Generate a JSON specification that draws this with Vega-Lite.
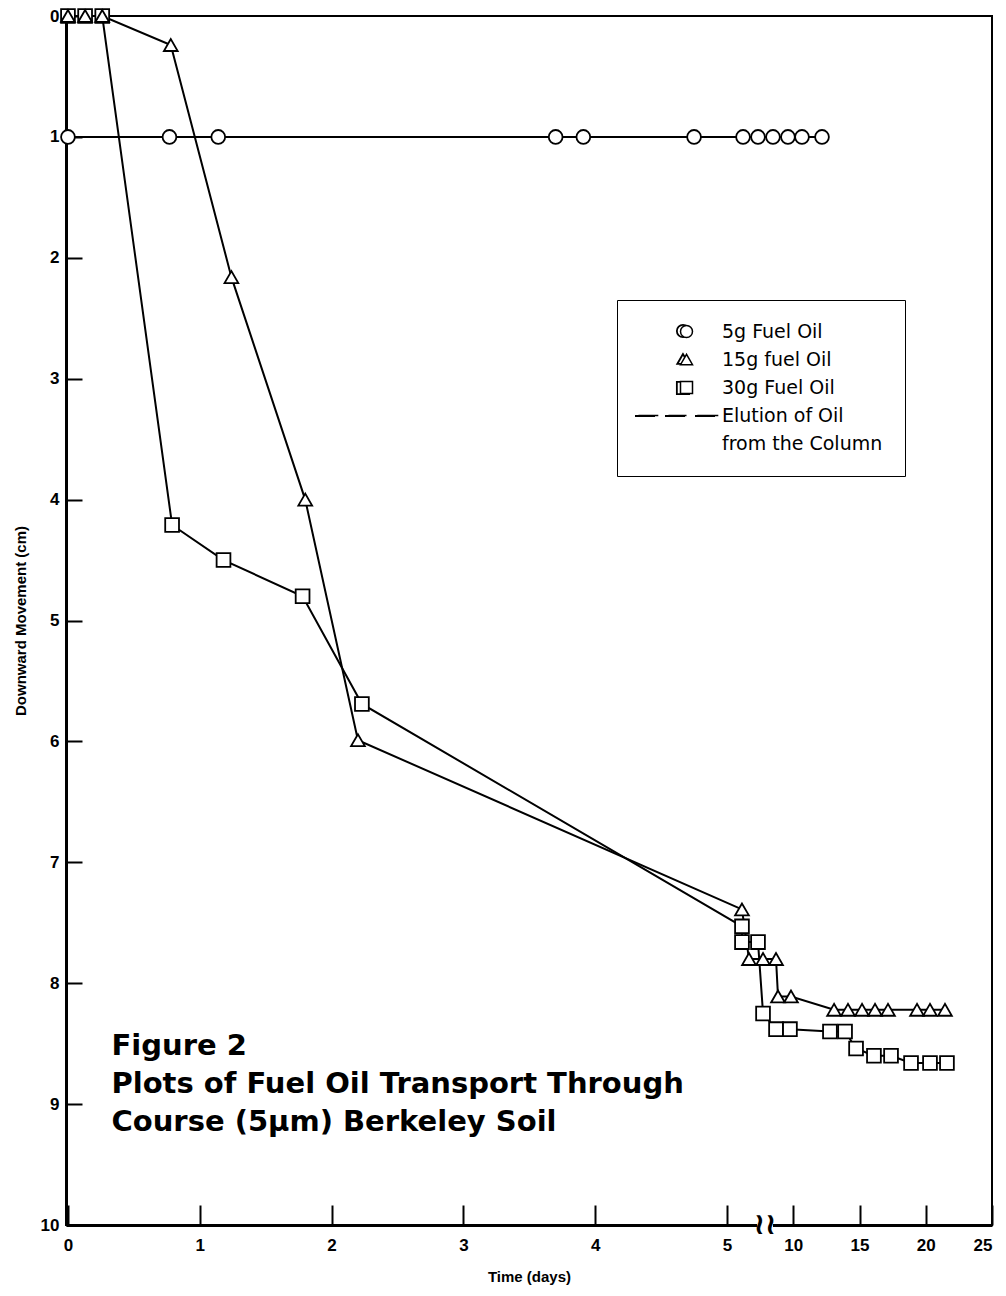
{
  "$schema": "https://vega.github.io/schema/vega-lite/v6.json",
  "width": 926,
  "height": 1209,
  "autosize": "none",
  "padding": {"left": 66, "top": 16, "right": 14, "bottom": 71},
  "background": "white",
  "config": {
    "font": "Liberation Sans",
    "view": {"stroke": "black", "strokeWidth": 2},
    "axis": {
      "domainColor": "black", "domainWidth": 3,
      "tickColor": "black", "tickWidth": 2,
      "labelColor": "black", "titleColor": "black", "grid": false,
      "labelFont": "Liberation Sans", "labelFontWeight": "bold", "labelFontSize": 17,
      "titleFont": "Liberation Sans", "titleFontWeight": "bold", "titleFontSize": 15,
      "zindex": 0
    }
  },
  "datasets": {
    "runs": [
      {"series": "30g Fuel Oil", "t": 0, "depth": 0},
      {"series": "30g Fuel Oil", "t": 0.13, "depth": 0},
      {"series": "30g Fuel Oil", "t": 0.26, "depth": 0},
      {"series": "30g Fuel Oil", "t": 0.79, "depth": 4.21},
      {"series": "30g Fuel Oil", "t": 1.18, "depth": 4.5},
      {"series": "30g Fuel Oil", "t": 1.78, "depth": 4.8},
      {"series": "30g Fuel Oil", "t": 2.23, "depth": 5.69},
      {"series": "30g Fuel Oil", "t": 6.13, "depth": 7.53},
      {"series": "30g Fuel Oil", "t": 6.13, "depth": 7.66},
      {"series": "30g Fuel Oil", "t": 7.34, "depth": 7.66},
      {"series": "30g Fuel Oil", "t": 7.72, "depth": 8.25},
      {"series": "30g Fuel Oil", "t": 8.7, "depth": 8.38},
      {"series": "30g Fuel Oil", "t": 9.75, "depth": 8.38},
      {"series": "30g Fuel Oil", "t": 12.77, "depth": 8.4},
      {"series": "30g Fuel Oil", "t": 13.91, "depth": 8.4},
      {"series": "30g Fuel Oil", "t": 14.74, "depth": 8.54},
      {"series": "30g Fuel Oil", "t": 16.09, "depth": 8.6},
      {"series": "30g Fuel Oil", "t": 17.38, "depth": 8.6},
      {"series": "30g Fuel Oil", "t": 18.89, "depth": 8.66},
      {"series": "30g Fuel Oil", "t": 20.32, "depth": 8.66},
      {"series": "30g Fuel Oil", "t": 21.6, "depth": 8.66},
      {"series": "15g fuel Oil", "t": 0, "depth": 0},
      {"series": "15g fuel Oil", "t": 0.13, "depth": 0},
      {"series": "15g fuel Oil", "t": 0.26, "depth": 0},
      {"series": "15g fuel Oil", "t": 0.78, "depth": 0.24},
      {"series": "15g fuel Oil", "t": 1.24, "depth": 2.16},
      {"series": "15g fuel Oil", "t": 1.8, "depth": 4.0},
      {"series": "15g fuel Oil", "t": 2.2, "depth": 5.99},
      {"series": "15g fuel Oil", "t": 6.13, "depth": 7.39},
      {"series": "15g fuel Oil", "t": 6.66, "depth": 7.8},
      {"series": "15g fuel Oil", "t": 7.72, "depth": 7.8},
      {"series": "15g fuel Oil", "t": 8.7, "depth": 7.8},
      {"series": "15g fuel Oil", "t": 8.85, "depth": 8.11},
      {"series": "15g fuel Oil", "t": 9.83, "depth": 8.11},
      {"series": "15g fuel Oil", "t": 13.08, "depth": 8.22},
      {"series": "15g fuel Oil", "t": 14.13, "depth": 8.22},
      {"series": "15g fuel Oil", "t": 15.19, "depth": 8.22},
      {"series": "15g fuel Oil", "t": 16.17, "depth": 8.22},
      {"series": "15g fuel Oil", "t": 17.15, "depth": 8.22},
      {"series": "15g fuel Oil", "t": 19.34, "depth": 8.22},
      {"series": "15g fuel Oil", "t": 20.32, "depth": 8.22},
      {"series": "15g fuel Oil", "t": 21.45, "depth": 8.22},
      {"series": "5g Fuel Oil", "t": 0, "depth": 1.0},
      {"series": "5g Fuel Oil", "t": 0.77, "depth": 1.0},
      {"series": "5g Fuel Oil", "t": 1.14, "depth": 1.0},
      {"series": "5g Fuel Oil", "t": 3.7, "depth": 1.0},
      {"series": "5g Fuel Oil", "t": 3.91, "depth": 1.0},
      {"series": "5g Fuel Oil", "t": 4.75, "depth": 1.0},
      {"series": "5g Fuel Oil", "t": 6.21, "depth": 1.0},
      {"series": "5g Fuel Oil", "t": 7.34, "depth": 1.0},
      {"series": "5g Fuel Oil", "t": 8.47, "depth": 1.0},
      {"series": "5g Fuel Oil", "t": 9.6, "depth": 1.0},
      {"series": "5g Fuel Oil", "t": 10.66, "depth": 1.0},
      {"series": "5g Fuel Oil", "t": 12.17, "depth": 1.0}
    ],
    "notes": [
      {"note": "title"}
    ]
  },
  "layer": [
    {
      "data": {"name": "runs"},
      "mark": {"type": "line", "stroke": "black", "strokeWidth": 2},
      "encoding": {
        "x": {
          "field": "t", "type": "quantitative",
          "scale": {"domain": [-0.015, 5, 25], "range": [0, 661, 926], "nice": false, "zero": false},
          "axis": {
            "title": "Time (days)", "format": "d",
            "values": [0, 1, 2, 3, 4, 5, 10, 15, 20, 25],
            "tickSize": -20, "labelPadding": 32, "labelOverlap": false,
            "titlePadding": 16
          }
        },
        "y": {
          "field": "depth", "type": "quantitative",
          "scale": {"domain": [0, 10], "reverse": true, "nice": false, "zero": false},
          "axis": {
            "title": "Downward Movement (cm)", "format": "d",
            "values": [0, 1, 2, 3, 4, 5, 6, 7, 8, 9, 10],
            "tickSize": -16, "labelPadding": 23,
            "titlePadding": 12
          }
        },
        "detail": {"field": "series"}
      }
    },
    {
      "data": {"name": "runs"},
      "mark": {"type": "point", "filled": true, "fill": "white", "stroke": "black", "strokeWidth": 1.8, "size": 190, "opacity": 1},
      "encoding": {
        "x": {"field": "t", "type": "quantitative"},
        "y": {"field": "depth", "type": "quantitative"},
        "shape": {
          "field": "series", "type": "nominal",
          "scale": {
            "domain": ["5g Fuel Oil", "15g fuel Oil", "30g Fuel Oil", "Elution of Oil", "from the Column"],
            "range": ["circle", "triangle-up", "square", "M -8 0 L -4.7 0 M -3 0 L 0 0 M 1.8 0 L 5.3 0", "M 0 -0.001 L 0 0.001"]
          },
          "legend": {
            "title": null,
            "orient": "none", "legendX": 551, "legendY": 284,
            "padding": 22, "strokeColor": "black",
            "symbolOffset": 38, "labelOffset": 26, "rowPadding": 8,
            "labelFont": "DejaVu Sans", "labelFontSize": 19, "labelColor": "black", "labelLimit": 400,
            "symbolSize": 144,
            "encode": {
              "legend": {"update": {"strokeWidth": {"value": 1.5}}},
              "symbols": {"update": {"opacity": {"value": 0}}}
            }
          }
        }
      }
    },
    {
      "data": {"name": "notes"},
      "mark": {"type": "point", "shape": "circle", "filled": true, "fill": "white", "stroke": "black", "strokeWidth": 1.8, "size": 150, "opacity": 1},
      "encoding": {"x": {"datum": 4.666, "type": "quantitative"}, "y": {"datum": 2.605, "type": "quantitative"}}
    },
    {
      "data": {"name": "notes"},
      "mark": {"type": "point", "shape": "triangle-up", "filled": true, "fill": "white", "stroke": "black", "strokeWidth": 1.8, "size": 130, "opacity": 1},
      "encoding": {"x": {"datum": 4.666, "type": "quantitative"}, "y": {"datum": 2.837, "type": "quantitative"}}
    },
    {
      "data": {"name": "notes"},
      "mark": {"type": "point", "shape": "square", "filled": true, "fill": "white", "stroke": "black", "strokeWidth": 1.8, "size": 150, "opacity": 1},
      "encoding": {"x": {"datum": 4.666, "type": "quantitative"}, "y": {"datum": 3.077, "type": "quantitative"}}
    },
    {
      "data": {"name": "notes"},
      "mark": {"type": "rule", "stroke": "black", "strokeWidth": 2, "strokeDash": [20, 10]},
      "encoding": {"x": {"datum": 4.302, "type": "quantitative"}, "x2": {"datum": 4.909}, "y": {"datum": 3.309, "type": "quantitative"}}
    },
    {
      "data": {"name": "notes"},
      "mark": {"type": "point", "shape": "square", "filled": true, "fill": "white", "stroke": "white", "strokeWidth": 0, "size": 256, "opacity": 1},
      "encoding": {"x": {"datum": 7.87, "type": "quantitative"}, "y": {"datum": 10, "type": "quantitative"}}
    },
    {
      "data": {"name": "notes"},
      "mark": {"type": "text", "text": "≀≀", "font": "DejaVu Sans", "fontSize": 30, "fontWeight": "bold", "fill": "black", "align": "center", "baseline": "middle"},
      "encoding": {"x": {"datum": 7.87, "type": "quantitative"}, "y": {"datum": 10, "type": "quantitative"}}
    },
    {
      "data": {"name": "notes"},
      "mark": {"type": "text", "text": ["Figure 2", "Plots of Fuel Oil Transport Through", "Course (5μm) Berkeley Soil"], "font": "DejaVu Sans", "fontSize": 29, "fontWeight": "bold", "fill": "black", "align": "left", "baseline": "top", "lineHeight": 38},
      "encoding": {"x": {"datum": 0.33, "type": "quantitative"}, "y": {"datum": 8.4, "type": "quantitative"}}
    }
  ]
}
